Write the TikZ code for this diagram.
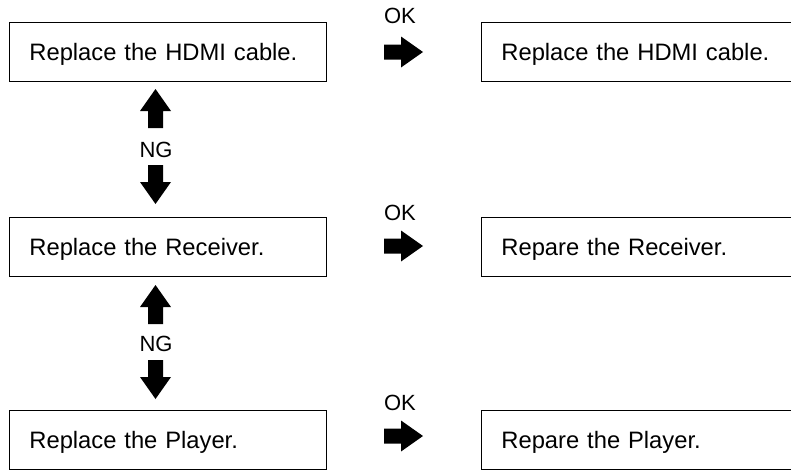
\documentclass[tikz,border=0pt]{standalone}
\usepackage{fontspec}
\setmainfont{Liberation Sans}
\tikzset{
  box/.style={draw, line width=1.8pt, anchor=north west, minimum height=59,
    inner xsep=20, inner ysep=0, text height=17, text depth=0, align=left,
    font=\fontsize{23.75}{28}\selectfont},
  leftbox/.style={box, minimum width=317, text width=277},
  rightbox/.style={box, minimum width=400, text width=360},
  lbl/.style={anchor=base, inner sep=0, font=\fontsize{22}{26}\selectfont},
  fatarrow/.pic={\fill (0,-7.5) -- (17,-7.5) -- (17,-15.5) -- (39,0) -- (17,15.5) -- (17,7.5) -- (0,7.5) -- cycle;}
}
\begin{document}
\begin{tikzpicture}[x=1pt,y=-1pt]
\useasboundingbox (0,0) rectangle (791,471);
\clip (0,0) rectangle (791,471);
% left column
\node[leftbox] (b1) at (8.5,21.5) {Replace the HDMI cable.};
\node[leftbox] (b2) at (8.5,216.5) {Replace the Receiver.};
\node[leftbox] (b3) at (8.5,409.5) {Replace the Player.};
% right column
\node[rightbox] (r1) at (480.5,21.5) {Replace the HDMI cable.};
\node[rightbox] (r2) at (480.5,216.5) {Repare the Receiver.};
\node[rightbox] (r3) at (480.5,409.5) {Repare the Player.};
% OK labels and arrows
\node[lbl] (ok1) at (400,23) {OK};
\node[lbl] (ok2) at (400,220) {OK};
\node[lbl] (ok3) at (400,410) {OK};
\pic at (384,52) {fatarrow};
\pic at (384,246) {fatarrow};
\pic at (384,436) {fatarrow};
% NG labels and arrows
\node[lbl] (ng1) at (156,157) {NG};
\node[lbl] (ng2) at (156,351) {NG};
\pic[rotate=90] at (155.5,128) {fatarrow};
\pic[rotate=-90] at (155.5,165) {fatarrow};
\pic[rotate=90] at (155.5,324) {fatarrow};
\pic[rotate=-90] at (155.5,360) {fatarrow};
\end{tikzpicture}
\end{document}
